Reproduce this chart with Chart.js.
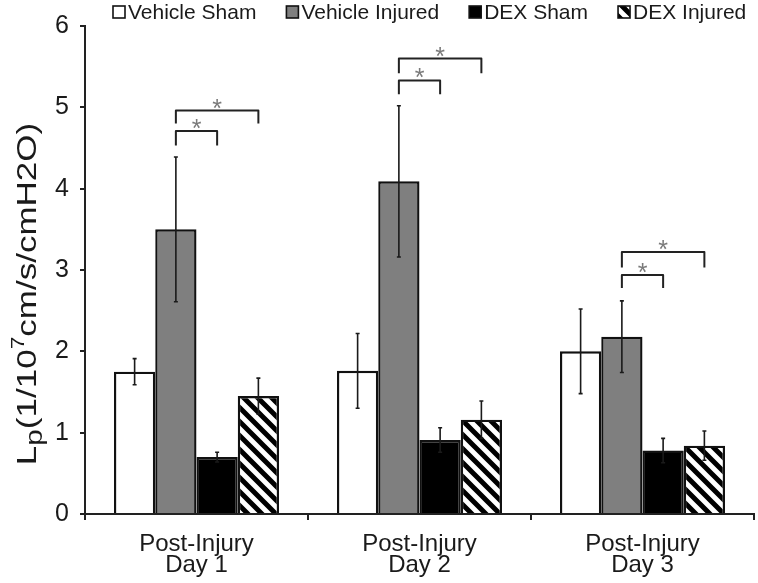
<!DOCTYPE html>
<html>
<head>
<meta charset="utf-8">
<script src="https://cdn.jsdelivr.net/npm/chart.js@4.4.1/dist/chart.umd.min.js"></script>
<style>
  html, body { margin: 0; padding: 0; background: #fff; }
  #wrap { width: 758px; height: 583px; }
</style>
</head>
<body>
<div id="wrap"><canvas id="c" width="758" height="583"></canvas></div>
<script>
// ---------- data ----------
const categories = [['Post-Injury', 'Day 1'], ['Post-Injury', 'Day 2'], ['Post-Injury', 'Day 3']];
const seriesNames = ['Vehicle Sham', 'Vehicle Injured', 'DEX Sham', 'DEX Injured'];
const vehicleSham = [1.75, 1.76, 2.00];
const vehicleShamErr = [0.16, 0.46, 0.52];
const vehicleInjured = [3.50, 4.09, 2.18];
const vehicleInjuredErr = [0.89, 0.93, 0.44];
const dexSham = [0.70, 0.91, 0.78];
const dexShamErr = [0.06, 0.15, 0.15];
const dexInjured = [1.45, 1.16, 0.84];
const dexInjuredErr = [0.22, 0.23, 0.18];
const yTicks = [0, 1, 2, 3, 4, 5, 6];
// significance brackets: Vehicle Injured vs DEX Sham (low) and vs DEX Injured (high)
const bracketLowTop = [4.71, 5.33, 2.94];
const bracketLowLeg = [4.53, 5.16, 2.78];
const bracketHighTop = [4.96, 5.60, 3.22];
const bracketHighLeg = [4.80, 5.42, 3.03];
const sigMark = '*';

const FONT = "'Liberation Sans', Arial, Helvetica, sans-serif";

// hatch pattern
function makeHatch() {
  const s = 14;
  const pc = document.createElement('canvas');
  pc.width = s; pc.height = s;
  const g = pc.getContext('2d');
  g.fillStyle = '#fff';
  g.fillRect(0, 0, s, s);
  g.strokeStyle = '#000';
  g.lineWidth = 5;
  g.beginPath();
  for (let k = -1; k <= 1; k++) {
    g.moveTo(k * s - 2, -2);
    g.lineTo(k * s + s + 2, s + 2);
  }
  g.stroke();
  return g.createPattern(pc, 'repeat');
}
const hatch = makeHatch();

const values = [vehicleSham, vehicleInjured, dexSham, dexInjured];
const errors = [vehicleShamErr, vehicleInjuredErr, dexShamErr, dexInjuredErr];
const fills = ['#ffffff', '#7f7f7f', '#000000', hatch];

const datasets = seriesNames.map((n, i) => ({
  label: n,
  data: values[i],
  errs: errors[i],
  backgroundColor: fills[i],
  borderColor: '#111',
  borderWidth: 2.4,
  categoryPercentage: 0.74,
  barPercentage: 1.0
}));

// ---------- plugins ----------
const errorBars = {
  id: 'errorBars',
  afterDatasetsDraw(chart) {
    const ctx = chart.ctx, y = chart.scales.y;
    ctx.save();
    ctx.strokeStyle = '#1a1a1a';
    ctx.lineWidth = 1.6;
    chart.data.datasets.forEach((ds, i) => {
      const meta = chart.getDatasetMeta(i);
      meta.data.forEach((bar, j) => {
        const v = ds.data[j], e = ds.errs[j];
        const x = bar.x;
        const t = y.getPixelForValue(v + e), b = y.getPixelForValue(v - e);
        ctx.beginPath();
        ctx.moveTo(x, t); ctx.lineTo(x, b);
        ctx.moveTo(x - 2, t); ctx.lineTo(x + 2, t);
        ctx.moveTo(x - 2, b); ctx.lineTo(x + 2, b);
        ctx.stroke();
      });
    });
    ctx.restore();
  }
};

const brackets = {
  id: 'brackets',
  afterDatasetsDraw(chart) {
    const ctx = chart.ctx, y = chart.scales.y;
    const m1 = chart.getDatasetMeta(1), m2 = chart.getDatasetMeta(2), m3 = chart.getDatasetMeta(3);
    ctx.save();
    ctx.strokeStyle = '#222';
    ctx.lineWidth = 2;
    ctx.lineJoin = 'round';
    ctx.fillStyle = '#7a7a7a';
    ctx.font = '25px ' + FONT;
    ctx.textAlign = 'center';
    ctx.textBaseline = 'alphabetic';
    const draw = (x1, x2, top, leg) => {
      const yt = y.getPixelForValue(top), yl = y.getPixelForValue(leg);
      ctx.beginPath();
      ctx.moveTo(x1, yl); ctx.lineTo(x1, yt); ctx.lineTo(x2, yt); ctx.lineTo(x2, yl);
      ctx.stroke();
      ctx.fillText(sigMark, (x1 + x2) / 2, yt + 6);
    };
    for (let j = 0; j < categories.length; j++) {
      const xa = m1.data[j].x;
      draw(xa, m2.data[j].x, bracketLowTop[j], bracketLowLeg[j]);
      draw(xa, m3.data[j].x, bracketHighTop[j], bracketHighLeg[j]);
    }
    ctx.restore();
  }
};

const customLegend = {
  id: 'customLegend',
  afterDraw(chart) {
    const ctx = chart.ctx;
    ctx.save();
    ctx.font = '21px ' + FONT;
    ctx.textBaseline = 'middle';
    ctx.textAlign = 'left';
    let x = 113;
    const cy = 12, bs = 12;
    chart.data.datasets.forEach(ds => {
      ctx.fillStyle = ds.backgroundColor;
      ctx.fillRect(x, cy - bs / 2, bs, bs);
      ctx.strokeStyle = '#111';
      ctx.lineWidth = 1.6;
      ctx.strokeRect(x, cy - bs / 2, bs, bs);
      ctx.fillStyle = '#1a1a1a';
      ctx.fillText(ds.label, x + bs + 3, cy + 1);
      x += bs + 3 + ctx.measureText(ds.label).width + 30;
    });
    ctx.restore();
  }
};

const yTitle = {
  id: 'yTitle',
  afterDraw(chart) {
    const ctx = chart.ctx;
    const fs = 28;
    const stretch = 1.25;
    const parts = [
      { t: 'L', s: 1, dy: 0 },
      { t: 'p', s: 0.85, dy: 0.22 },
      { t: '(1/10', s: 1, dy: 0 },
      { t: '7', s: 0.65, dy: -0.42 },
      { t: 'cm/s/cmH2O)', s: 1, dy: 0 }
    ];
    ctx.save();
    ctx.fillStyle = '#1a1a1a';
    ctx.textBaseline = 'alphabetic';
    ctx.textAlign = 'left';
    let total = 0;
    parts.forEach(p => { ctx.font = (fs * p.s) + 'px ' + FONT; p.w = ctx.measureText(p.t).width; total += p.w; });
    ctx.translate(36, 294);
    ctx.rotate(-Math.PI / 2);
    ctx.scale(stretch, 1);
    let x = -total / 2;
    parts.forEach(p => {
      ctx.font = (fs * p.s) + 'px ' + FONT;
      ctx.fillText(p.t, x, p.dy * fs);
      x += p.w;
    });
    ctx.restore();
  }
};

new Chart(document.getElementById('c'), {
  type: 'bar',
  data: { labels: categories, datasets },
  options: {
    responsive: false,
    devicePixelRatio: 1,
    animation: false,
    layout: { padding: { top: 15, right: 4, left: 0, bottom: 0 } },
    plugins: {
      legend: { display: false },
      tooltip: { enabled: false },
      title: { display: false }
    },
    scales: {
      x: {
        offset: true,
        grid: { display: true, offset: true, drawOnChartArea: false, drawTicks: true, tickLength: 6, color: '#222', lineWidth: 2 },
        border: { display: true, color: '#222', width: 2 },
        ticks: { color: '#1a1a1a', font: { family: FONT, size: 24, lineHeight: 0.88 }, padding: 14, maxRotation: 0 },
        afterFit(s) { s.height = 69; }
      },
      y: {
        min: 0, max: 6,
        afterBuildTicks(s) { s.ticks = yTicks.map(v => ({ value: v })); },
        grid: { display: true, drawOnChartArea: false, drawTicks: true, tickLength: 5, color: '#222', lineWidth: 2 },
        border: { display: true, color: '#222', width: 2 },
        ticks: { color: '#1a1a1a', font: { family: FONT, size: 25 }, padding: 11 },
        afterFit(s) { s.width = 85; }
      }
    }
  },
  plugins: [errorBars, brackets, customLegend, yTitle]
});
</script>
</body>
</html>
